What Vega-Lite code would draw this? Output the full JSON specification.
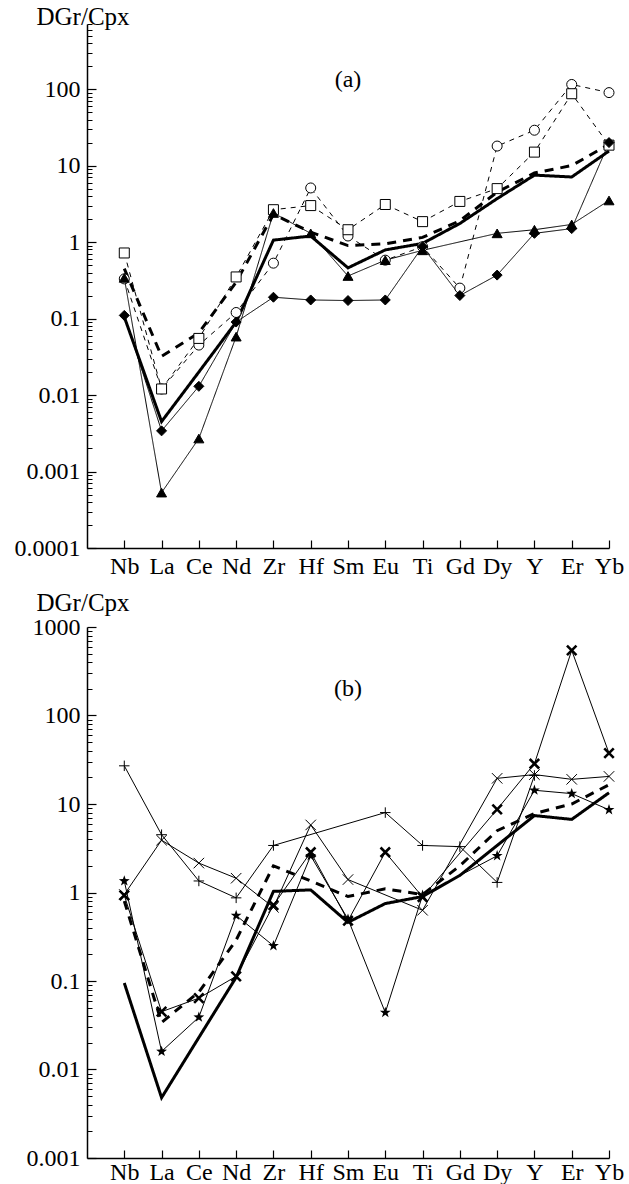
{
  "$schema": "https://vega.github.io/schema/vega-lite/v6.json",
  "background": "white",
  "padding": {"left": 14, "top": 4, "right": 0, "bottom": 0},
  "spacing": 12,
  "config": {
    "font": "Liberation Serif",
    "view": {"stroke": null},
    "axis": {
      "labelFont": "Liberation Serif", "titleFont": "Liberation Serif",
      "labelFontSize": 24, "titleFontSize": 25, "titleFontWeight": "normal",
      "labelColor": "black", "titleColor": "black", "domainColor": "black",
      "tickColor": "black", "grid": false
    },
    "text": {"font": "Liberation Serif"}
  },
  "datasets": {
    "a": [
      {"s": "avg", "el": "Nb", "v": 0.105}, {"s": "avg", "el": "La", "v": 0.0045}, {"s": "avg", "el": "Ce", "v": 0.02}, {"s": "avg", "el": "Nd", "v": 0.09}, {"s": "avg", "el": "Zr", "v": 1.06}, {"s": "avg", "el": "Hf", "v": 1.2}, {"s": "avg", "el": "Sm", "v": 0.46}, {"s": "avg", "el": "Eu", "v": 0.79}, {"s": "avg", "el": "Ti", "v": 0.96}, {"s": "avg", "el": "Gd", "v": 1.75}, {"s": "avg", "el": "Dy", "v": 3.7}, {"s": "avg", "el": "Y", "v": 7.5}, {"s": "avg", "el": "Er", "v": 7.1}, {"s": "avg", "el": "Yb", "v": 15.5},
      {"s": "avgd", "el": "Nb", "v": 0.45}, {"s": "avgd", "el": "La", "v": 0.032}, {"s": "avgd", "el": "Ce", "v": 0.065}, {"s": "avgd", "el": "Nd", "v": 0.3}, {"s": "avgd", "el": "Zr", "v": 2.3}, {"s": "avgd", "el": "Hf", "v": 1.35}, {"s": "avgd", "el": "Sm", "v": 0.9}, {"s": "avgd", "el": "Eu", "v": 0.95}, {"s": "avgd", "el": "Ti", "v": 1.15}, {"s": "avgd", "el": "Gd", "v": 1.9}, {"s": "avgd", "el": "Dy", "v": 4.5}, {"s": "avgd", "el": "Y", "v": 8.0}, {"s": "avgd", "el": "Er", "v": 10}, {"s": "avgd", "el": "Yb", "v": 19},
      {"s": "circ", "el": "Nb", "v": 0.33}, {"s": "circ", "el": "La", "v": 0.012}, {"s": "circ", "el": "Ce", "v": 0.045}, {"s": "circ", "el": "Nd", "v": 0.12}, {"s": "circ", "el": "Zr", "v": 0.53}, {"s": "circ", "el": "Hf", "v": 5.1}, {"s": "circ", "el": "Sm", "v": 1.2}, {"s": "circ", "el": "Eu", "v": 0.58}, {"s": "circ", "el": "Ti", "v": 0.87}, {"s": "circ", "el": "Gd", "v": 0.25}, {"s": "circ", "el": "Dy", "v": 18}, {"s": "circ", "el": "Y", "v": 29}, {"s": "circ", "el": "Er", "v": 115}, {"s": "circ", "el": "Yb", "v": 90},
      {"s": "sq", "el": "Nb", "v": 0.72}, {"s": "sq", "el": "La", "v": 0.012}, {"s": "sq", "el": "Ce", "v": 0.055}, {"s": "sq", "el": "Nd", "v": 0.35}, {"s": "sq", "el": "Zr", "v": 2.65}, {"s": "sq", "el": "Hf", "v": 3.0}, {"s": "sq", "el": "Sm", "v": 1.45}, {"s": "sq", "el": "Eu", "v": 3.1}, {"s": "sq", "el": "Ti", "v": 1.85}, {"s": "sq", "el": "Gd", "v": 3.4}, {"s": "sq", "el": "Dy", "v": 5.0}, {"s": "sq", "el": "Y", "v": 15}, {"s": "sq", "el": "Er", "v": 87}, {"s": "sq", "el": "Yb", "v": 18.5},
      {"s": "dia", "el": "Nb", "v": 0.11}, {"s": "dia", "el": "La", "v": 0.0034}, {"s": "dia", "el": "Ce", "v": 0.013}, {"s": "dia", "el": "Nd", "v": 0.09}, {"s": "dia", "el": "Zr", "v": 0.19}, {"s": "dia", "el": "Hf", "v": 0.175}, {"s": "dia", "el": "Sm", "v": 0.172}, {"s": "dia", "el": "Eu", "v": 0.175}, {"s": "dia", "el": "Ti", "v": 0.87}, {"s": "dia", "el": "Gd", "v": 0.2}, {"s": "dia", "el": "Dy", "v": 0.37}, {"s": "dia", "el": "Y", "v": 1.3}, {"s": "dia", "el": "Er", "v": 1.5}, {"s": "dia", "el": "Yb", "v": 20},
      {"s": "tri", "el": "Nb", "v": 0.34}, {"s": "tri", "el": "La", "v": 0.00053}, {"s": "tri", "el": "Ce", "v": 0.0027}, {"s": "tri", "el": "Nd", "v": 0.058}, {"s": "tri", "el": "Zr", "v": 2.4}, {"s": "tri", "el": "Hf", "v": 1.3}, {"s": "tri", "el": "Sm", "v": 0.36}, {"s": "tri", "el": "Eu", "v": 0.58}, {"s": "tri", "el": "Ti", "v": 0.78}, {"s": "tri", "el": "Dy", "v": 1.3}, {"s": "tri", "el": "Y", "v": 1.45}, {"s": "tri", "el": "Er", "v": 1.7}, {"s": "tri", "el": "Yb", "v": 3.5}
    ],
    "b": [
      {"s": "avg", "el": "Nb", "v": 0.095}, {"s": "avg", "el": "La", "v": 0.0048}, {"s": "avg", "el": "Ce", "v": 0.023}, {"s": "avg", "el": "Nd", "v": 0.11}, {"s": "avg", "el": "Zr", "v": 1.03}, {"s": "avg", "el": "Hf", "v": 1.07}, {"s": "avg", "el": "Sm", "v": 0.46}, {"s": "avg", "el": "Eu", "v": 0.75}, {"s": "avg", "el": "Ti", "v": 0.9}, {"s": "avg", "el": "Gd", "v": 1.56}, {"s": "avg", "el": "Dy", "v": 3.4}, {"s": "avg", "el": "Y", "v": 7.4}, {"s": "avg", "el": "Er", "v": 6.7}, {"s": "avg", "el": "Yb", "v": 13.4},
      {"s": "avgd", "el": "Nb", "v": 0.8}, {"s": "avgd", "el": "La", "v": 0.034}, {"s": "avgd", "el": "Ce", "v": 0.075}, {"s": "avgd", "el": "Nd", "v": 0.29}, {"s": "avgd", "el": "Zr", "v": 2.0}, {"s": "avgd", "el": "Hf", "v": 1.35}, {"s": "avgd", "el": "Sm", "v": 0.9}, {"s": "avgd", "el": "Eu", "v": 1.1}, {"s": "avgd", "el": "Ti", "v": 0.95}, {"s": "avgd", "el": "Gd", "v": 2.0}, {"s": "avgd", "el": "Dy", "v": 5.0}, {"s": "avgd", "el": "Y", "v": 7.8}, {"s": "avgd", "el": "Er", "v": 10}, {"s": "avgd", "el": "Yb", "v": 16.5},
      {"s": "plus", "el": "Nb", "v": 27}, {"s": "plus", "el": "La", "v": 4.5}, {"s": "plus", "el": "Ce", "v": 1.35}, {"s": "plus", "el": "Nd", "v": 0.87}, {"s": "plus", "el": "Zr", "v": 3.4}, {"s": "plus", "el": "Eu", "v": 8.0}, {"s": "plus", "el": "Ti", "v": 3.4}, {"s": "plus", "el": "Gd", "v": 3.3}, {"s": "plus", "el": "Dy", "v": 1.3}, {"s": "plus", "el": "Y", "v": 21},
      {"s": "x", "el": "Nb", "v": 0.95}, {"s": "x", "el": "La", "v": 3.9}, {"s": "x", "el": "Ce", "v": 2.15}, {"s": "x", "el": "Nd", "v": 1.45}, {"s": "x", "el": "Zr", "v": 0.68}, {"s": "x", "el": "Hf", "v": 5.8}, {"s": "x", "el": "Sm", "v": 1.4}, {"s": "x", "el": "Ti", "v": 0.63}, {"s": "x", "el": "Dy", "v": 19.5}, {"s": "x", "el": "Y", "v": 21.5}, {"s": "x", "el": "Er", "v": 19}, {"s": "x", "el": "Yb", "v": 20.5},
      {"s": "bx", "el": "Nb", "v": 0.93}, {"s": "bx", "el": "La", "v": 0.045}, {"s": "bx", "el": "Ce", "v": 0.064}, {"s": "bx", "el": "Nd", "v": 0.113}, {"s": "bx", "el": "Zr", "v": 0.72}, {"s": "bx", "el": "Hf", "v": 2.85}, {"s": "bx", "el": "Sm", "v": 0.48}, {"s": "bx", "el": "Eu", "v": 2.85}, {"s": "bx", "el": "Ti", "v": 0.89}, {"s": "bx", "el": "Dy", "v": 8.7}, {"s": "bx", "el": "Y", "v": 28.5}, {"s": "bx", "el": "Er", "v": 545}, {"s": "bx", "el": "Yb", "v": 37.5},
      {"s": "star", "el": "Nb", "v": 1.35}, {"s": "star", "el": "La", "v": 0.016}, {"s": "star", "el": "Ce", "v": 0.039}, {"s": "star", "el": "Nd", "v": 0.55}, {"s": "star", "el": "Zr", "v": 0.25}, {"s": "star", "el": "Hf", "v": 2.6}, {"s": "star", "el": "Sm", "v": 0.5}, {"s": "star", "el": "Eu", "v": 0.044}, {"s": "star", "el": "Ti", "v": 0.93}, {"s": "star", "el": "Dy", "v": 2.6}, {"s": "star", "el": "Y", "v": 14.3}, {"s": "star", "el": "Er", "v": 13.1}, {"s": "star", "el": "Yb", "v": 8.6}
    ]
  },
  "vconcat": [
    {
      "width": 522, "height": 524,
      "data": {"name": "a"},
      "resolve": {"axis": {"x": "independent", "y": "independent"}},
      "layer": [
        {
          "transform": [{"filter": {"field": "s", "oneOf": ["avg", "avgd"]}}],
          "mark": {"type": "line", "strokeWidth": 3, "color": "black"},
          "encoding": {
            "x": {"field": "el", "type": "nominal", "scale": {"type": "point", "domain": ["Nb","La","Ce","Nd","Zr","Hf","Sm","Eu","Ti","Gd","Dy","Y","Er","Yb"], "padding": 0.5, "align": 1},
                  "axis": {"orient": "bottom", "title": null, "ticks": false, "labelPadding": 6, "labelAngle": 0, "labelOverlap": false, "domainWidth": 1.5}},
            "y": {"field": "v", "type": "quantitative", "scale": {"type": "log", "domain": [0.0001, 710], "nice": false},
                  "axis": {"orient": "left", "title": "DGr/Cpx", "titleAngle": 0, "titleAlign": "left", "titleBaseline": "alphabetic", "titleX": -51, "titleY": 0, "ticks": false, "values": [0.0001, 0.001, 0.01, 0.1, 1, 10, 100], "format": "~g", "labelPadding": 7, "domainWidth": 1.5}},
            "detail": {"field": "s"},
            "strokeDash": {"field": "s", "type": "nominal", "scale": {"domain": ["avg", "avgd", "circ", "sq", "dia", "tri", "plus", "x", "bx", "star"], "range": [[1, 0], [9, 7], [5, 5], [5, 5], [1, 0], [1, 0], [1, 0], [1, 0], [1, 0], [1, 0]]}, "legend": null},
            "order": {"value": null}
          }
        },
        {
          "transform": [{"filter": {"field": "s", "oneOf": ["circ", "sq", "dia", "tri"]}}],
          "mark": {"type": "line", "strokeWidth": 1, "color": "black"},
          "encoding": {
            "x": {"field": "el", "type": "nominal", "scale": {"type": "point", "domain": ["Nb","La","Ce","Nd","Zr","Hf","Sm","Eu","Ti","Gd","Dy","Y","Er","Yb"], "padding": 0.5, "align": 1},
                  "axis": {"orient": "bottom", "title": null, "labels": false, "domain": false, "tickSize": -8, "tickWidth": 1.2}},
            "y": {"field": "v", "type": "quantitative", "scale": {"type": "log", "domain": [0.0001, 710], "nice": false},
                  "axis": {"orient": "left", "title": null, "labels": false, "domain": false, "tickSize": -9, "tickWidth": 1.2, "values": [0.0001, 0.001, 0.01, 0.1, 1, 10, 100]}},
            "detail": {"field": "s"},
            "strokeDash": {"field": "s", "type": "nominal", "scale": {"domain": ["avg", "avgd", "circ", "sq", "dia", "tri", "plus", "x", "bx", "star"], "range": [[1, 0], [9, 7], [5, 5], [5, 5], [1, 0], [1, 0], [1, 0], [1, 0], [1, 0], [1, 0]]}, "legend": null},
            "order": {"value": null}
          }
        },
        {
          "transform": [{"filter": {"field": "s", "oneOf": ["circ", "sq", "dia", "tri"]}}],
          "mark": {"type": "point", "filled": true, "strokeWidth": 1, "opacity": 1, "size": 100},
          "encoding": {
            "x": {"field": "el", "type": "nominal", "scale": {"type": "point", "domain": ["Nb","La","Ce","Nd","Zr","Hf","Sm","Eu","Ti","Gd","Dy","Y","Er","Yb"], "padding": 0.5, "align": 1}, "axis": null},
            "y": {"field": "v", "type": "quantitative", "scale": {"type": "log", "domain": [0.0001, 710], "nice": false},
                  "axis": {"orient": "left", "title": null, "labels": false, "domain": false, "tickSize": -5, "tickWidth": 1,
                           "values": [0.0002,0.0003,0.0004,0.0005,0.0006,0.0007,0.0008,0.0009,0.002,0.003,0.004,0.005,0.006,0.007,0.008,0.009,0.02,0.03,0.04,0.05,0.06,0.07,0.08,0.09,0.2,0.3,0.4,0.5,0.6,0.7,0.8,0.9,2,3,4,5,6,7,8,9,20,30,40,50,60,70,80,90,200,300,400,500,600,700]}},
            "shape": {"field": "s", "type": "nominal", "scale": {"domain": ["circ", "sq", "dia", "tri", "plus", "x"], "range": ["circle", "square", "diamond", "triangle-up", "M-1,0L1,0M0,-1L0,1", "M-1,-1L1,1M-1,1L1,-1"]}, "legend": null},
            "fill": {"field": "s", "type": "nominal", "scale": {"domain": ["circ", "sq", "dia", "tri", "plus", "x"], "range": ["white", "white", "black", "black", "transparent", "transparent"]}, "legend": null},
            "stroke": {"value": "black"}
          }
        },
        {
          "data": {"values": [{"el": "Sm", "v": 131, "t": "(a)"}]},
          "mark": {"type": "text", "fontSize": 24, "baseline": "middle", "align": "center", "color": "black"},
          "encoding": {
            "x": {"field": "el", "type": "nominal", "scale": {"type": "point", "domain": ["Nb","La","Ce","Nd","Zr","Hf","Sm","Eu","Ti","Gd","Dy","Y","Er","Yb"], "padding": 0.5, "align": 1}, "axis": null},
            "y": {"field": "v", "type": "quantitative", "scale": {"type": "log", "domain": [0.0001, 710], "nice": false}, "axis": null},
            "text": {"field": "t"}
          }
        }
      ]
    },
    {
      "width": 522, "height": 531,
      "data": {"name": "b"},
      "resolve": {"axis": {"x": "independent", "y": "independent"}},
      "layer": [
        {
          "transform": [{"filter": {"field": "s", "oneOf": ["avg", "avgd"]}}],
          "mark": {"type": "line", "strokeWidth": 3, "color": "black"},
          "encoding": {
            "x": {"field": "el", "type": "nominal", "scale": {"type": "point", "domain": ["Nb","La","Ce","Nd","Zr","Hf","Sm","Eu","Ti","Gd","Dy","Y","Er","Yb"], "padding": 0.5, "align": 1},
                  "axis": {"orient": "bottom", "title": null, "ticks": false, "labelPadding": 2, "labelAngle": 0, "labelOverlap": false, "domainWidth": 1.5}},
            "y": {"field": "v", "type": "quantitative", "scale": {"type": "log", "domain": [0.001, 1000], "nice": false},
                  "axis": {"orient": "left", "title": "DGr/Cpx", "titleAngle": 0, "titleAlign": "left", "titleBaseline": "alphabetic", "titleX": -51, "titleY": -17, "ticks": false, "values": [0.001, 0.01, 0.1, 1, 10, 100, 1000], "format": "~g", "labelPadding": 7, "domainWidth": 1.5}},
            "detail": {"field": "s"},
            "strokeDash": {"field": "s", "type": "nominal", "scale": {"domain": ["avg", "avgd", "circ", "sq", "dia", "tri", "plus", "x", "bx", "star"], "range": [[1, 0], [9, 7], [5, 5], [5, 5], [1, 0], [1, 0], [1, 0], [1, 0], [1, 0], [1, 0]]}, "legend": null},
            "order": {"value": null}
          }
        },
        {
          "transform": [{"filter": {"field": "s", "oneOf": ["plus", "x", "bx", "star"]}}],
          "mark": {"type": "line", "strokeWidth": 1, "color": "black"},
          "encoding": {
            "x": {"field": "el", "type": "nominal", "scale": {"type": "point", "domain": ["Nb","La","Ce","Nd","Zr","Hf","Sm","Eu","Ti","Gd","Dy","Y","Er","Yb"], "padding": 0.5, "align": 1},
                  "axis": {"orient": "bottom", "title": null, "labels": false, "domain": false, "tickSize": -8, "tickWidth": 1.2}},
            "y": {"field": "v", "type": "quantitative", "scale": {"type": "log", "domain": [0.001, 1000], "nice": false},
                  "axis": {"orient": "left", "title": null, "labels": false, "domain": false, "tickSize": -9, "tickWidth": 1.2, "values": [0.001, 0.01, 0.1, 1, 10, 100, 1000]}},
            "detail": {"field": "s"},
            "order": {"value": null}
          }
        },
        {
          "transform": [{"filter": {"field": "s", "oneOf": ["plus", "x"]}}],
          "mark": {"type": "point", "filled": false, "strokeWidth": 1, "opacity": 1, "size": 110, "color": "black"},
          "encoding": {
            "x": {"field": "el", "type": "nominal", "scale": {"type": "point", "domain": ["Nb","La","Ce","Nd","Zr","Hf","Sm","Eu","Ti","Gd","Dy","Y","Er","Yb"], "padding": 0.5, "align": 1}, "axis": null},
            "y": {"field": "v", "type": "quantitative", "scale": {"type": "log", "domain": [0.001, 1000], "nice": false},
                  "axis": {"orient": "left", "title": null, "labels": false, "domain": false, "tickSize": -5, "tickWidth": 1,
                           "values": [0.002,0.003,0.004,0.005,0.006,0.007,0.008,0.009,0.02,0.03,0.04,0.05,0.06,0.07,0.08,0.09,0.2,0.3,0.4,0.5,0.6,0.7,0.8,0.9,2,3,4,5,6,7,8,9,20,30,40,50,60,70,80,90,200,300,400,500,600,700,800,900]}},
            "shape": {"field": "s", "type": "nominal", "scale": {"domain": ["circ", "sq", "dia", "tri", "plus", "x"], "range": ["circle", "square", "diamond", "triangle-up", "M-1,0L1,0M0,-1L0,1", "M-1,-1L1,1M-1,1L1,-1"]}, "legend": null},
            "fill": {"field": "s", "type": "nominal", "scale": {"domain": ["circ", "sq", "dia", "tri", "plus", "x"], "range": ["white", "white", "black", "black", "transparent", "transparent"]}, "legend": null},
            "stroke": {"value": "black"}
          }
        },
        {
          "transform": [{"filter": {"field": "s", "equal": "bx"}}],
          "mark": {"type": "point", "filled": false, "strokeWidth": 2.6, "opacity": 1, "size": 90, "color": "black", "shape": "M-1,-1L1,1M-1,1L1,-1"},
          "encoding": {
            "x": {"field": "el", "type": "nominal", "scale": {"type": "point", "domain": ["Nb","La","Ce","Nd","Zr","Hf","Sm","Eu","Ti","Gd","Dy","Y","Er","Yb"], "padding": 0.5, "align": 1}, "axis": null},
            "y": {"field": "v", "type": "quantitative", "scale": {"type": "log", "domain": [0.001, 1000], "nice": false}, "axis": null}
          }
        },
        {
          "transform": [{"filter": {"field": "s", "equal": "star"}}],
          "mark": {"type": "point", "filled": true, "opacity": 1, "size": 130, "color": "black", "shape": "M0,-1L0.235,-0.324L0.951,-0.309L0.38,0.124L0.588,0.809L0,0.4L-0.588,0.809L-0.38,0.124L-0.951,-0.309L-0.235,-0.324Z"},
          "encoding": {
            "x": {"field": "el", "type": "nominal", "scale": {"type": "point", "domain": ["Nb","La","Ce","Nd","Zr","Hf","Sm","Eu","Ti","Gd","Dy","Y","Er","Yb"], "padding": 0.5, "align": 1}, "axis": null},
            "y": {"field": "v", "type": "quantitative", "scale": {"type": "log", "domain": [0.001, 1000], "nice": false}, "axis": null}
          }
        },
        {
          "data": {"values": [{"el": "Sm", "v": 197, "t": "(b)"}]},
          "mark": {"type": "text", "fontSize": 24, "baseline": "middle", "align": "center", "color": "black"},
          "encoding": {
            "x": {"field": "el", "type": "nominal", "scale": {"type": "point", "domain": ["Nb","La","Ce","Nd","Zr","Hf","Sm","Eu","Ti","Gd","Dy","Y","Er","Yb"], "padding": 0.5, "align": 1}, "axis": null},
            "y": {"field": "v", "type": "quantitative", "scale": {"type": "log", "domain": [0.001, 1000], "nice": false}, "axis": null},
            "text": {"field": "t"}
          }
        }
      ]
    }
  ]
}
